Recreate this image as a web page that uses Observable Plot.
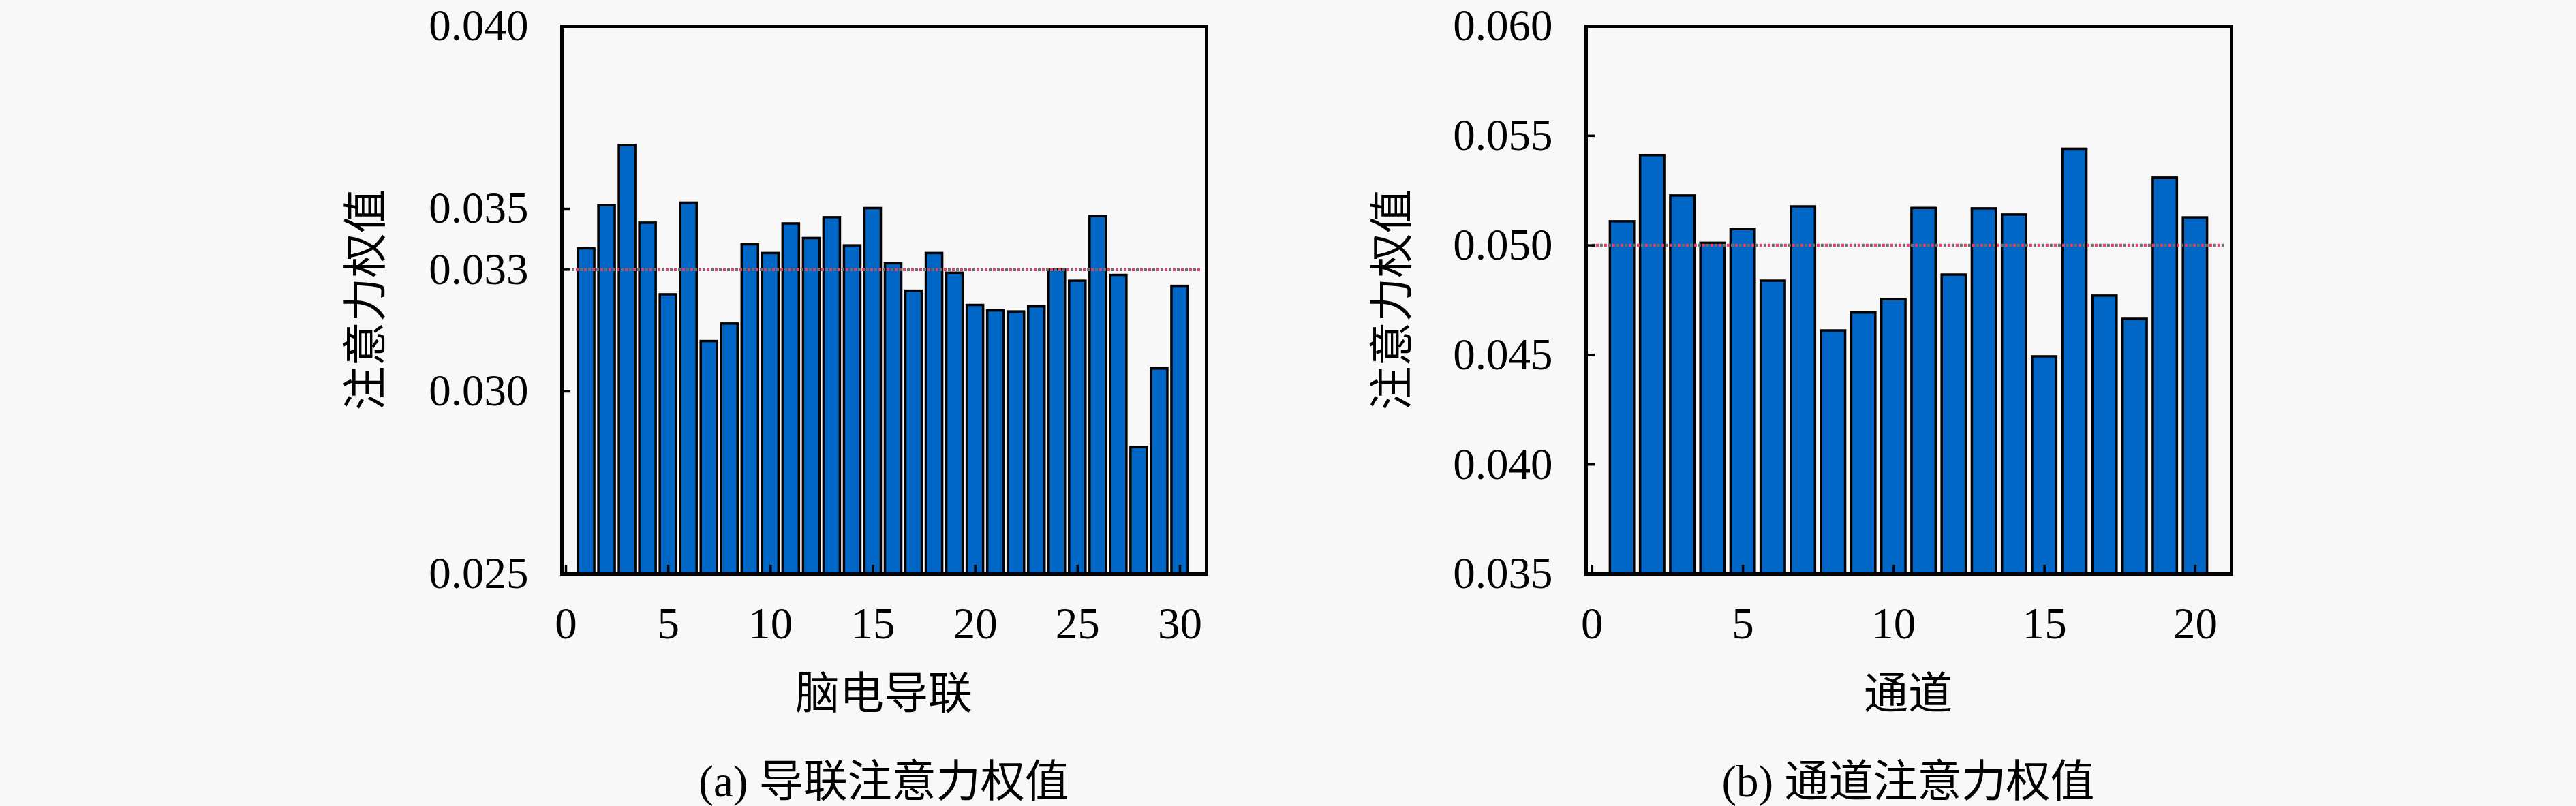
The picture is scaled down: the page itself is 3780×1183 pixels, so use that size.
<!DOCTYPE html>
<html>
<head>
<meta charset="utf-8">
<script src="https://cdn.jsdelivr.net/npm/d3@7"></script>
<script src="https://cdn.jsdelivr.net/npm/@observablehq/plot@0.6"></script>
<style>
  html, body { margin: 0; padding: 0; background: #f8f8f8; }
  #page { position: relative; width: 3780px; height: 1183px; overflow: hidden; background: #f8f8f8; }
  .chart { position: absolute; top: 0; }
  .lbl { position: absolute; transform: translate(-50%, -50%); white-space: nowrap; line-height: 1;
         font-family: 'Liberation Serif', 'Noto Sans CJK SC', serif; font-size: 65px; color: #000; }
  .rot { transform: translate(-50%, -50%) rotate(-90deg); }
</style>
</head>
<body>
<div id="page">
  <div id="chartA" class="chart" style="left:0px"></div>
  <div id="chartB" class="chart" style="left:1890px"></div>
  <div class="lbl rot" style="left:537px; top:440px">注意力权值</div>
  <div class="lbl rot" style="left:2043px; top:440px">注意力权值</div>
  <div class="lbl" style="left:1297px; top:1018px">脑电导联</div>
  <div class="lbl" style="left:2800px; top:1018px">通道</div>
  <div class="lbl" style="left:1297px; top:1147px">(a) 导联注意力权值</div>
  <div class="lbl" style="left:2800px; top:1147px">(b) 通道注意力权值</div>
</div>
<script>
// ---------- data ----------
const leadIndex = d3.range(1, 31);
const leadValues = [
  0.03391, 0.03509, 0.03674, 0.03461, 0.03265, 0.03516, 0.03137, 0.03185, 0.03402, 0.03378,
  0.03459, 0.03419, 0.03476, 0.03399, 0.03501, 0.03350, 0.03275, 0.03378, 0.03324, 0.03236,
  0.03221, 0.03218, 0.03232, 0.03333, 0.03302, 0.03479, 0.03318, 0.02847, 0.03062, 0.03288
];
const leadMean = 1 / 30;
const leadMeanSpan = [0.3, 31];
const leadYTicks = [0.025, 0.030, 1 / 30, 0.035, 0.040];
const leadXTicks = [0, 5, 10, 15, 20, 25, 30];
const leadYDomain = [0.025, 0.040];
const leadXDomain = [-0.2, 31.3];

const chanIndex = d3.range(1, 21);
const chanValues = [
  0.05108, 0.05410, 0.05226, 0.05010, 0.05073, 0.04837, 0.05176, 0.04610, 0.04692, 0.04753,
  0.05169, 0.04865, 0.05167, 0.05139, 0.04492, 0.05439, 0.04769, 0.04663, 0.05307, 0.05126
];
const chanMean = 1 / 20;
const chanMeanSpan = [0, 21];
const chanYTicks = [0.035, 0.040, 0.045, 0.050, 0.055, 0.060];
const chanXTicks = [0, 5, 10, 15, 20];
const chanYDomain = [0.035, 0.060];
const chanXDomain = [-0.2, 21.2];

const barWidth = 0.8;

function makeChart({index, values, mean, meanSpan, yTicks, xTicks, yDomain, xDomain, width, height, mL, mR, mT, mB}) {
  const data = index.map((i, k) => ({i, v: values[k]}));
  const plotW = width - mL - mR;
  const plotH = height - mT - mB;
  const fmt = d3.format(".3f");
  return Plot.plot({
    width, height,
    marginLeft: mL, marginRight: mR, marginTop: mT, marginBottom: mB,
    style: {
      background: "transparent",
      fontFamily: "'Liberation Serif', 'Noto Sans CJK SC', serif",
      fontSize: "65px",
      color: "#000",
      overflow: "visible"
    },
    x: {domain: xDomain, ticks: xTicks},
    y: {domain: yDomain, ticks: yTicks},
    marks: [
      Plot.rectY(data, {
        x1: d => d.i - barWidth / 2,
        x2: d => d.i + barWidth / 2,
        y: "v",
        fill: "#0067c6",
        stroke: "#000",
        strokeWidth: 3.5,
        clip: true
      }),
      Plot.ruleY([mean], {x1: meanSpan[0], x2: meanSpan[1], stroke: "#6e6e6e", strokeWidth: 4.5, strokeDasharray: "4,8"}),
      Plot.ruleY([mean], {x1: meanSpan[0], x2: meanSpan[1], stroke: "#e0406a", strokeWidth: 4.5, strokeDasharray: "4,8", strokeDashoffset: -6}),
      Plot.tickY(yTicks, {y: d => d, insetRight: plotW - 13, stroke: "#000", strokeWidth: 3.5}),
      Plot.tickX(xTicks, {x: d => d, insetTop: plotH - 13, stroke: "#000", strokeWidth: 3.5}),
      Plot.frame({stroke: "#000", strokeWidth: 5}),
      Plot.axisY({ticks: yTicks, tickFormat: fmt, tickSize: 0, tickPadding: 49, fontSize: 65, label: null}),
      Plot.axisX({ticks: xTicks, tickFormat: d3.format("d"), tickSize: 0, tickPadding: 48, fontSize: 65, label: null})
    ]
  });
}

document.getElementById("chartA").appendChild(makeChart({
  index: leadIndex, values: leadValues, mean: leadMean, meanSpan: leadMeanSpan,
  yTicks: leadYTicks, xTicks: leadXTicks, yDomain: leadYDomain, xDomain: leadXDomain,
  width: 1890, height: 1000, mL: 824, mR: 120, mT: 38, mB: 158
}));
document.getElementById("chartB").appendChild(makeChart({
  index: chanIndex, values: chanValues, mean: chanMean, meanSpan: chanMeanSpan,
  yTicks: chanYTicks, xTicks: chanXTicks, yDomain: chanYDomain, xDomain: chanXDomain,
  width: 1890, height: 1000, mL: 437, mR: 506, mT: 38, mB: 158
}));
</script>
</body>
</html>
